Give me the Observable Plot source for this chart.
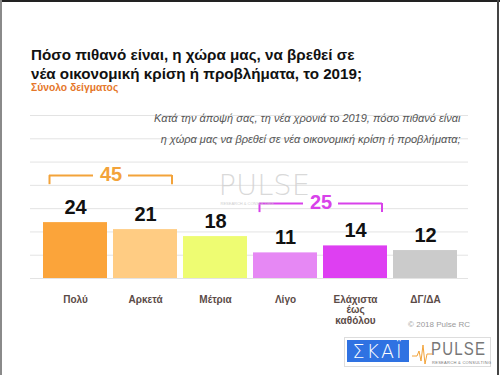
<!DOCTYPE html>
<html>
<head>
<meta charset="utf-8">
<script src="https://cdn.jsdelivr.net/npm/d3@7"></script>
<script src="https://cdn.jsdelivr.net/npm/@observablehq/plot@0.6"></script>
<style>
  html, body { margin: 0; padding: 0; background: #fff; }
  #page { position: relative; width: 500px; height: 375px; overflow: hidden; background: #fff;
          font-family: "Liberation Sans", Arial, sans-serif; }
  .abs { position: absolute; }
</style>
</head>
<body>
<div id="page">
  <div class="abs" style="left:0;top:0;width:500px;height:2px;background:#222"></div>
  <div class="abs" style="left:0;top:0;width:2px;height:375px;background:#8a8a8a"></div>
  <div class="abs" style="left:497px;top:0;width:2px;height:375px;background:#444"></div>
  <div id="title" class="abs" style="left:31px;top:45px;font-size:15.2px;font-weight:bold;line-height:19px;color:#111;white-space:nowrap"></div>
  <div id="subtitle" class="abs" style="left:31px;top:82px;font-size:10.3px;font-weight:bold;line-height:12px;color:#E5772A;white-space:nowrap"></div>
  <div id="chart" class="abs" style="left:0;top:100px"></div>
  <div id="copy" class="abs" style="left:400px;width:70px;text-align:right;top:320px;font-size:8px;color:#9a9a9a;white-space:nowrap"></div>
  <div class="abs" style="left:344px;top:337px;width:147px;height:30px;box-sizing:border-box;border:1px solid #ddd;background:#fff"></div>
  <div class="abs" style="left:347px;top:340px;width:62px;height:22px;background:#2F72E2;color:#fff;font-size:19px;line-height:22px;text-align:center;letter-spacing:2px;font-family:'DejaVu Sans',sans-serif;font-weight:300">ΣΚΑΪ</div>
  <svg class="abs" style="left:412px;top:340px" width="20" height="26">
    <polyline points="0,16 5,16 7,11 9,21 11,5 13,24 15,14 20,14" fill="none" stroke="#F2A33A" stroke-width="1"/>
  </svg>
  <div class="abs" style="left:431px;top:339px;font-size:15px;line-height:16px;color:#777;letter-spacing:1.2px;white-space:nowrap;transform:scale(1,1.25);transform-origin:0 0">PULSE</div>
  <div class="abs" style="left:432px;top:360px;font-size:4px;line-height:5px;color:#777;letter-spacing:0.3px;white-space:nowrap">RESEARCH &amp; CONSULTING</div>
</div>
<script>
// ---- data ----
const categories = ["Πολύ", "Αρκετά", "Μέτρια", "Λίγο", "Ελάχιστα\nέως\nκαθόλου", "ΔΓ/ΔΑ"];
const values = [24, 21, 18, 11, 14, 12];
const barColors = ["#FBA43A", "#FFCC83", "#EEFC72", "#E688F4", "#DE3FF2", "#CBCBCB"];
const groupFrom = ["Πολύ", "Λίγο"];
const groupTo = ["Αρκετά", "Ελάχιστα\nέως\nκαθόλου"];
const groupTotals = [45, 25];
const groupColors = ["#F3A33A", "#D842EA"];
const yTicks = [0, 10, 20, 30, 40, 50, 60, 70];
const titleLines = ["Πόσο πιθανό είναι, η χώρα μας, να βρεθεί σε", "νέα οικονομική κρίση ή προβλήματα, το 2019;"];
const subtitleText = "Σύνολο δείγματος";
const questionText = "Κατά την άποψή σας, τη νέα χρονιά το 2019, πόσο πιθανό είναι\nη χώρα μας να βρεθεί σε νέα οικονομική κρίση ή προβλήματα;";
const copyrightText = "© 2018 Pulse RC";

document.getElementById("title").innerHTML = titleLines.join("<br>");
document.getElementById("subtitle").textContent = subtitleText;
document.getElementById("copy").textContent = copyrightText;

const data = categories.map((c, i) => ({cat: c, value: values[i], color: barColors[i]}));
const groups = groupTotals.map((t, i) => ({from: groupFrom[i], to: groupTo[i], total: t, color: groupColors[i]}));
const bracketLevel = [44.2, 32.2]; // layout: vertical placement of each bracket (in y units)
groups.forEach((g, i) => g.level = bracketLevel[i]);
const tickDrop = 3.9;

const font = "Liberation Sans, Arial, sans-serif";
const marks = [
  Plot.ruleY(yTicks, {stroke: "#e3e3e3", strokeWidth: 1}),
  Plot.barY(data, {x: "cat", y: "value", fill: "color"}),
  Plot.text(data, {x: "cat", y: "value", text: d => String(d.value), dy: -15, lineAnchor: "middle",
    fontSize: 20, fontWeight: "bold", fill: "#111", fontFamily: font}),
  // bracket segments
  Plot.ruleY(groups, {x1: "from", x2: "from", y: "level", stroke: "color", strokeWidth: 2, insetLeft: 6, insetRight: 14}),
  Plot.ruleY(groups, {x1: "to", x2: "to", y: "level", stroke: "color", strokeWidth: 2, insetLeft: 15, insetRight: 5}),
  Plot.ruleX(groups, {x: "from", y1: "level", y2: d => d.level - tickDrop, stroke: "color", strokeWidth: 2, dx: -26}),
  Plot.ruleX(groups, {x: "to", y1: "level", y2: d => d.level - tickDrop, stroke: "color", strokeWidth: 2, dx: 26.5}),
  Plot.text(groups, {x: "from", y: "level", text: d => String(d.total), dx: 35.5, dy: -1, lineAnchor: "middle",
    fontSize: 20, fontWeight: "bold", fill: "color", fontFamily: font}),
  // question
  Plot.text([questionText], {frameAnchor: "top-right", text: d => d, textAnchor: "end", lineAnchor: "top",
    dx: -8, dy: -8, lineHeight: 1.9, fontSize: 11, fontStyle: "italic", fill: "#555", fontFamily: font}),
  // watermark
  Plot.text(["PULSE"], {frameAnchor: "top-left", text: d => d, textAnchor: "start", lineAnchor: "bottom",
    dx: 188, dy: 79, fontSize: 29, fill: "#cfcfcf", fillOpacity: 0.8, fontFamily: "DejaVu Sans", fontWeight: 200, letterSpacing: 3}),
  Plot.text(["RESEARCH & CONSULTING"], {frameAnchor: "top-left", text: d => d, textAnchor: "start", lineAnchor: "bottom",
    dx: 190, dy: 89, fontSize: 4, fill: "#cfcfcf", fontFamily: font, letterSpacing: 1}),
  Plot.axisX({tickSize: 0, tickPadding: 17, lineAnchor: "top", fontSize: 10, fontWeight: "bold",
    fill: "#5B4B47", fontFamily: font, lineHeight: 1.05, label: null})
];

const chart = Plot.plot({
  width: 500,
  height: 232,
  marginTop: 15,
  marginBottom: 54,
  marginLeft: 30,
  marginRight: 32,
  x: {domain: categories, paddingInner: 0.09, paddingOuter: 0.045, insetLeft: 8.83, insetRight: 6.17, axis: null},
  y: {domain: [0, 70], axis: null},
  style: {background: "transparent", overflow: "visible"},
  marks
});
document.getElementById("chart").appendChild(chart);
</script>
</body>
</html>
